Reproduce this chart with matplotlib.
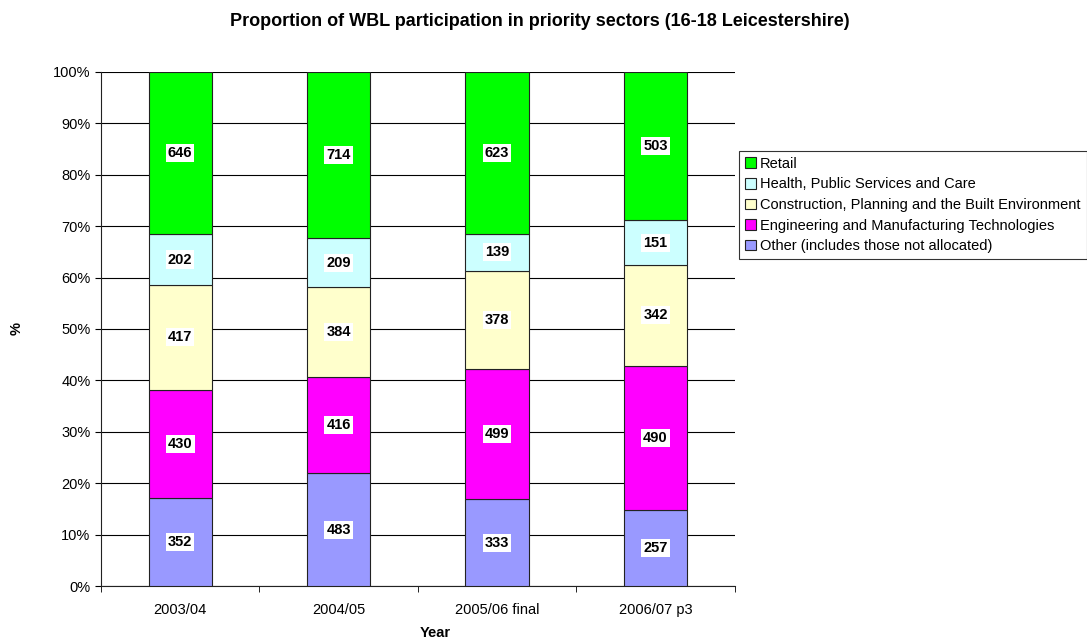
import numpy as np
import matplotlib.pyplot as plt
from matplotlib.ticker import FuncFormatter, FixedLocator

plt.rcParams['font.family'] = ['Liberation Sans', 'DejaVu Sans']

years = ['2003/04', '2004/05', '2005/06 final', '2006/07 p3']
sectors = ['Other (includes those not allocated)',
           'Engineering and Manufacturing Technologies',
           'Construction, Planning and the Built Environment',
           'Health, Public Services and Care',
           'Retail']
other = [352, 483, 333, 257]
engineering = [430, 416, 499, 490]
construction = [417, 384, 378, 342]
health = [202, 209, 139, 151]
retail = [646, 714, 623, 503]
colors = ['#9999FF', '#FF00FF', '#FFFFCC', '#CCFFFF', '#00FF00']

counts = np.array([other, engineering, construction, health, retail], dtype=float)
shares = counts / counts.sum(axis=0) * 100

fig = plt.figure(figsize=(10.87, 6.41), dpi=100)
ax = fig.add_axes([0.0929, 0.0858, 0.583, 0.802])

x = np.arange(len(years))
bottom = np.zeros(len(years))
handles = []
for i, name in enumerate(sectors):
    bars = ax.bar(x, shares[i], 0.4, bottom=bottom, color=colors[i],
                  edgecolor='#222222', linewidth=0.8, label=name, zorder=3)
    handles.append(bars)
    for xi, b, h, c in zip(x, bottom, shares[i], counts[i]):
        ax.text(xi, b + h / 2, f'{int(c)}', ha='center', va='center',
                fontsize=10.5, fontweight='bold', zorder=4,
                bbox=dict(facecolor='white', edgecolor='none', pad=1.5))
    bottom += shares[i]

ax.set_xlim(-0.5, len(years) - 0.5)
ax.set_ylim(0, 100)
ax.set_yticks(np.arange(0, 101, 10))
ax.yaxis.set_major_formatter(FuncFormatter(lambda v, p: f'{int(v)}%'))
ax.yaxis.grid(True, color='black', linewidth=0.8, zorder=0)
ax.set_xticks(x)
ax.set_xticklabels(years)
ax.tick_params(axis='x', length=0, labelsize=10.5, pad=12)
ax.xaxis.set_minor_locator(FixedLocator(np.arange(-0.5, len(years), 1.0)))
ax.tick_params(axis='x', which='minor', length=4, direction='out')
ax.tick_params(axis='y', labelsize=10.5, length=4)
for s in ['top', 'right']:
    ax.spines[s].set_visible(False)
ax.spines['left'].set_color('#222222')
ax.spines['bottom'].set_color('#222222')

ax.set_ylabel('%', fontsize=10.5, fontweight='bold')
ax.yaxis.set_label_coords(-0.122, 0.5)
fig.text(0.4, 0.0125, 'Year', ha='center', va='center',
         fontsize=10.5, fontweight='bold')
fig.text(0.497, 0.966,
         'Proportion of WBL participation in priority sectors (16-18 Leicestershire)',
         ha='center', va='center', fontsize=13, fontweight='bold')

leg = fig.legend(handles[::-1], sectors[::-1], loc='upper left',
                 bbox_to_anchor=(0.6799, 0.7644), fontsize=10.5, frameon=True,
                 fancybox=False, edgecolor='black', handlelength=0.75,
                 handleheight=0.75, handletextpad=0.3, borderpad=0.4,
                 labelspacing=0.45, borderaxespad=0)
leg.get_frame().set_linewidth(0.8)

fig.savefig('out.png', dpi=100)
